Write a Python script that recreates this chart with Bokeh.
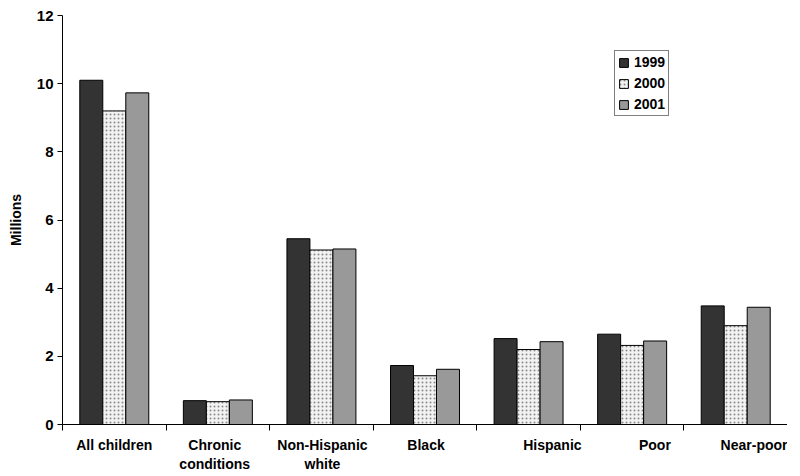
from bokeh.plotting import figure
from bokeh.models import ColumnDataSource, Range1d, FixedTicker, LinearAxis, Legend, LegendItem
from bokeh.embed import file_html
from bokeh.resources import INLINE

categories = ["All children", "Chronic\nconditions", "Non-Hispanic\nwhite", "Black",
              "Hispanic", "Poor", "Near-poor"]
label_shift = [0.0, -0.03, 0.01, 0.01, 0.23, 0.22, 0.22]
years = ["1999", "2000", "2001"]
v1999 = [10.1, 0.70, 5.45, 1.73, 2.52, 2.65, 3.48]
v2000 = [9.2, 0.67, 5.12, 1.43, 2.20, 2.32, 2.90]
v2001 = [9.73, 0.72, 5.15, 1.62, 2.43, 2.45, 3.44]
y_ticks = [0, 2, 4, 6, 8, 10, 12]

series = [v1999, v2000, v2001]
fills = ["#333333", "#f2f2f2", "#999999"]
hatches = [None, ".", None]

FONT = "Liberation Sans"

p = figure(width=787, height=474, output_backend="svg", toolbar_location=None,
           x_range=Range1d(0, len(categories)), y_range=Range1d(0, 12),
           min_border_left=62, min_border_right=0, min_border_top=15, min_border_bottom=50)
p.outline_line_color = None
p.xgrid.visible = False
p.ygrid.visible = False

bw = 0.222
renderers = []
for k, vals in enumerate(series):
    xs = [i + 0.5 + (k - 1) * bw for i in range(len(categories))]
    src = ColumnDataSource(dict(x=xs, top=vals))
    kw = dict(x="x", top="top", bottom=0, width=bw, source=src,
              fill_color=fills[k], line_color="black", line_width=1)
    if hatches[k]:
        kw.update(hatch_pattern=hatches[k], hatch_color="#8a8a8a", hatch_scale=4, hatch_weight=1)
    r = p.vbar(**kw)
    renderers.append(r)

# main x axis: boundary ticks, no labels
p.xaxis.ticker = FixedTicker(ticks=list(range(len(categories) + 1)))
p.xaxis.major_label_text_color = None
p.xaxis.major_label_text_font_size = "1px"
p.xaxis.major_label_standoff = 0
p.xaxis.major_tick_out = 6
p.xaxis.major_tick_in = 0
p.xaxis.minor_tick_line_color = None
p.xaxis.axis_line_color = "black"
p.xaxis.major_tick_line_color = "black"

# label axis: category names
label_pos = [i + 0.5 + s for i, s in enumerate(label_shift)]
lab_axis = LinearAxis(ticker=FixedTicker(ticks=label_pos),
                      major_label_overrides={pos: cat for pos, cat in zip(label_pos, categories)},
                      axis_line_color=None, major_tick_line_color=None,
                      minor_tick_line_color=None, major_tick_out=0, major_tick_in=0,
                      major_label_standoff=6,
                      major_label_text_font=FONT, major_label_text_font_style="bold",
                      major_label_text_font_size="14px", major_label_text_color="black",
                      major_label_text_line_height=1.2)
p.add_layout(lab_axis, "below")

p.yaxis.ticker = FixedTicker(ticks=y_ticks)
p.yaxis.major_tick_out = 5
p.yaxis.major_tick_in = 0
p.yaxis.minor_tick_line_color = None
p.yaxis.major_label_text_font = FONT
p.yaxis.major_label_text_font_style = "bold"
p.yaxis.major_label_text_font_size = "15px"
p.yaxis.major_label_text_color = "black"
p.yaxis.major_label_standoff = 4
p.yaxis.axis_label = "Millions"
p.yaxis.axis_label_text_font = FONT
p.yaxis.axis_label_text_font_style = "bold"
p.yaxis.axis_label_text_font_size = "14px"
p.yaxis.axis_label_text_color = "black"
p.yaxis.axis_label_standoff = 10

legend = Legend(items=[LegendItem(label=y, renderers=[r]) for y, r in zip(years, renderers)],
                location=(552, 308))
legend.border_line_color = "black"
legend.border_line_width = 1
legend.label_text_font = FONT
legend.label_text_font_style = "bold"
legend.label_text_font_size = "14px"
legend.label_text_color = "black"
legend.glyph_width = 11
legend.glyph_height = 11
legend.spacing = 5
legend.padding = 3
legend.margin = 0
legend.label_standoff = 5
legend.label_height = 15
p.add_layout(legend)

open("out.html", "w").write(file_html(p, INLINE))
